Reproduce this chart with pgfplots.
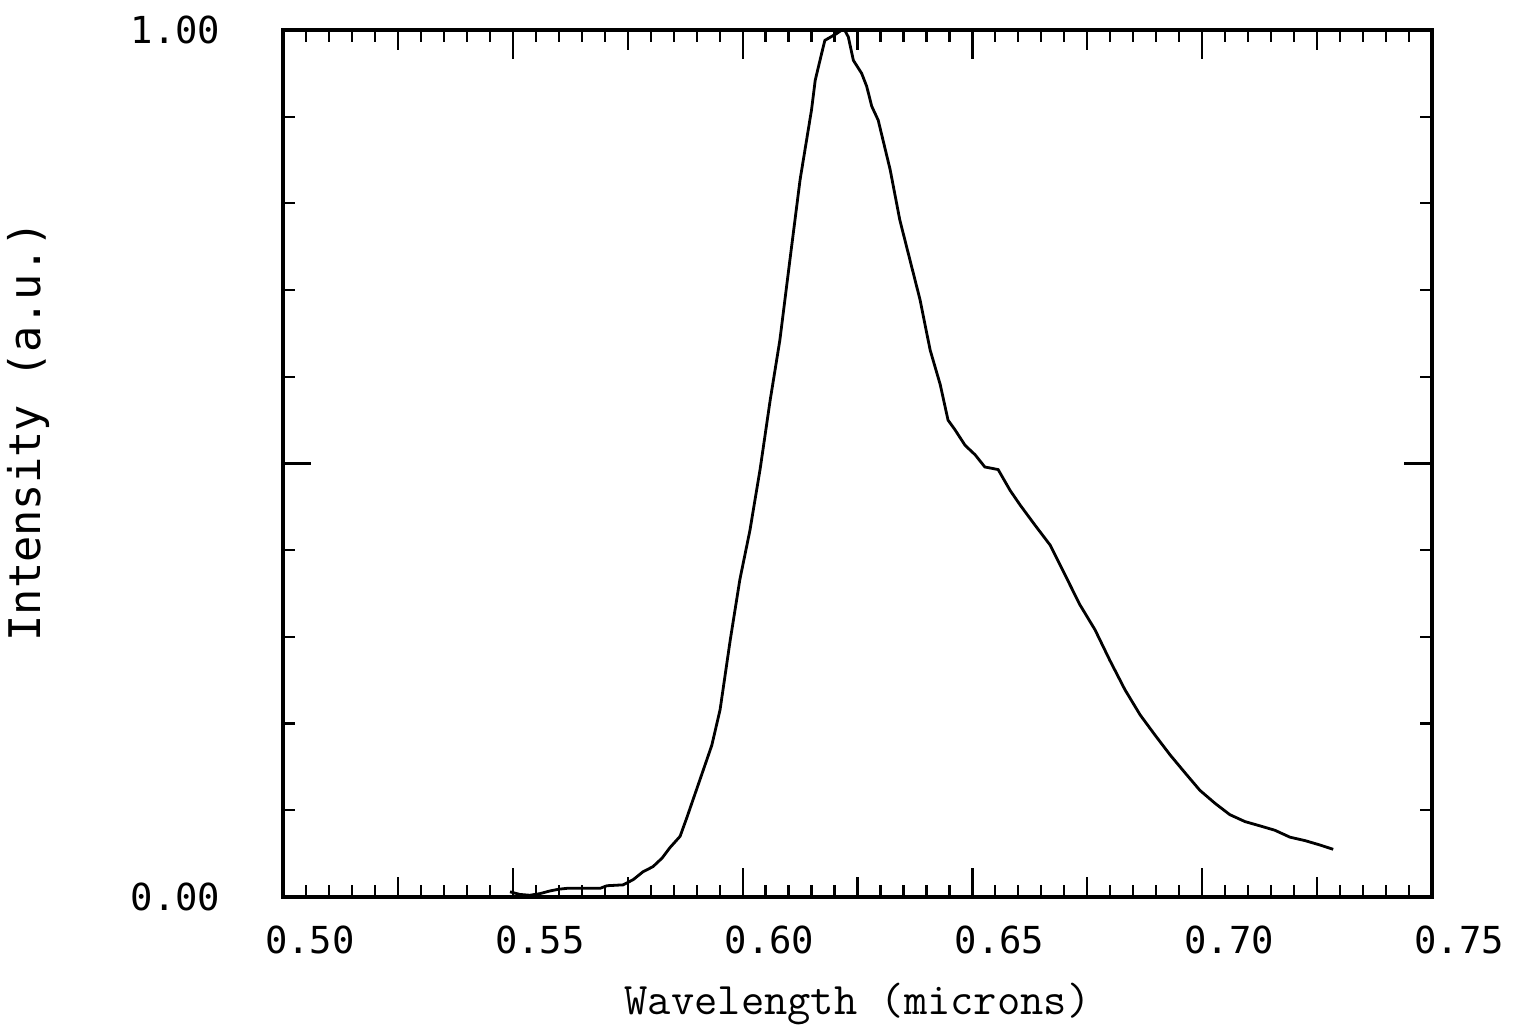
\documentclass[border=0pt]{standalone}
\usepackage{fontspec}
\usepackage{pgfplots}
\pgfplotsset{compat=1.18}
\newfontfamily\tickfont{DejaVu Sans Mono}
\begin{document}
\begin{tikzpicture}
\useasboundingbox (-70.75pt,-32.5pt) rectangle (308.75pt,224.25pt);
\begin{axis}[
  scale only axis,
  width=287.25pt, height=216.75pt,
  xmin=0.5, xmax=0.75, ymin=0, ymax=1,
  axis line style={line width=0.9pt},
  every tick/.style={line width=0.55pt, black},
  tick align=inside,
  xtick={0.50,0.55,0.60,0.65,0.70,0.75},
  xticklabels={0.50,0.55,0.60,0.65,0.70,0.75},
  minor x tick num=9,
  extra x ticks={0.525,0.575,0.625,0.675,0.725},
  extra x tick labels={},
  extra x tick style={major tick length=5pt},
  ytick={0,1},
  yticklabels={0.00,1.00},
  minor ytick={0.1,0.2,0.3,0.4,0.5,0.6,0.7,0.8,0.9},
  extra y ticks={0.5},
  extra y tick labels={},
  extra y tick style={major tick length=7pt},
  major tick length=7.25pt,
  minor tick length=3pt,
  /pgf/number format/assume math mode=true,
  xticklabel style={font=\tickfont\fontsize{9.3}{11}\selectfont, anchor=north, inner sep=0pt, yshift=-7pt, xshift=6.75pt},
  yticklabel style={font=\tickfont\fontsize{9.3}{11}\selectfont, anchor=east, inner sep=0pt, xshift=-15.5pt},
  xlabel={Wavelength (microns)},
  xlabel style={font=\ttfamily\fontsize{11.3}{13}\selectfont, at={(axis description cs:0.5,-0.1361)}, anchor=base, inner sep=0pt},
  ylabel={Intensity (a.u.)},
  ylabel style={font=\tickfont\fontsize{10.9}{12}\selectfont, at={(axis description cs:-0.2211,0.537)}, anchor=center, inner sep=0pt},
]
\addplot[black, line width=0.7pt, mark=none] coordinates {
(0.5494,0.006) (0.5515,0.003) (0.5537,0.002) (0.5560,0.004) (0.5581,0.007)
(0.5600,0.009) (0.5618,0.010) (0.5650,0.010) (0.5690,0.010) (0.5705,0.013)
(0.5740,0.014) (0.5762,0.020) (0.5783,0.029) (0.5805,0.035) (0.5825,0.045)
(0.5842,0.057) (0.5864,0.070) (0.5879,0.092) (0.5892,0.112) (0.5907,0.135)
(0.5933,0.175) (0.5951,0.216) (0.5973,0.296) (0.5994,0.366) (0.6016,0.423)
(0.6038,0.493) (0.6060,0.573) (0.6081,0.642) (0.6103,0.735) (0.6125,0.827)
(0.6150,0.908) (0.6158,0.942) (0.6172,0.973) (0.6179,0.988) (0.6205,0.996)
(0.6216,1.000) (0.6223,0.999) (0.6230,0.992) (0.6241,0.965) (0.6259,0.950)
(0.6270,0.935) (0.6281,0.912) (0.6295,0.896) (0.6321,0.839) (0.6342,0.781)
(0.6364,0.735) (0.6386,0.689) (0.6408,0.631) (0.6430,0.591) (0.6447,0.550)
(0.6462,0.539) (0.6484,0.521) (0.6506,0.510) (0.6527,0.496) (0.6556,0.493)
(0.6582,0.469) (0.6604,0.452) (0.6636,0.429) (0.6669,0.406) (0.6702,0.371)
(0.6734,0.337) (0.6767,0.308) (0.6799,0.273) (0.6832,0.239) (0.6865,0.210)
(0.6897,0.187) (0.6930,0.164) (0.6963,0.143) (0.6995,0.123) (0.7028,0.108)
(0.7060,0.095) (0.7093,0.087) (0.7126,0.082) (0.7158,0.077) (0.7191,0.069)
(0.7224,0.065) (0.7256,0.060) (0.7285,0.055)
};
\end{axis}
\end{tikzpicture}
\end{document}
